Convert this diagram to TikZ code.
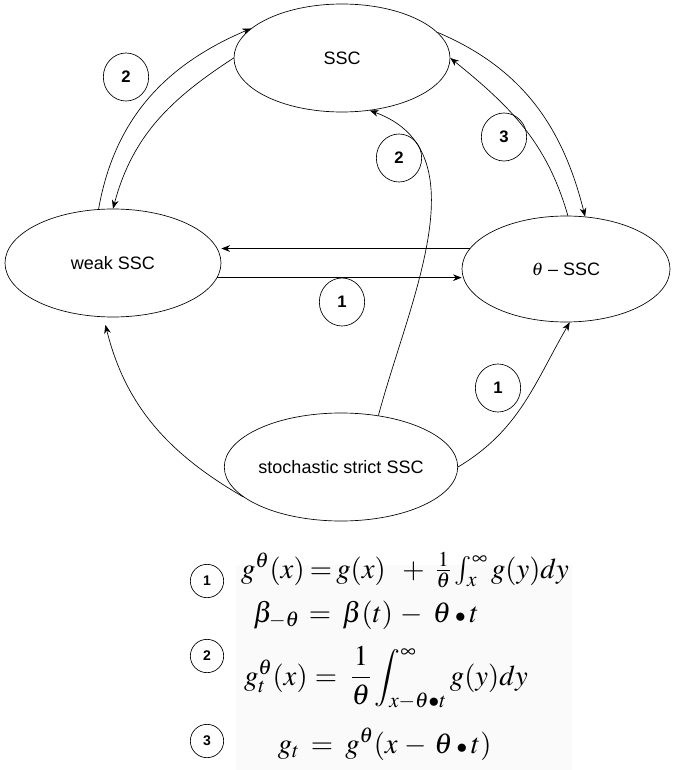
\documentclass[tikz,border=0pt]{standalone}
\usepackage{mathptmx}
\usepackage{fontspec}
\setmainfont{Liberation Sans}
\usetikzlibrary{arrows.meta,shapes.geometric}

\begin{document}
\begin{tikzpicture}[x=0.75pt,y=-0.75pt,>={Stealth[length=6.5pt,width=5pt]},line width=0.5pt,
	state/.style={ellipse,draw,minimum width=162pt,minimum height=81pt,inner sep=0pt,font=\fontsize{13.5}{16}\selectfont},
	tag/.style={ellipse,draw,minimum width=34pt,minimum height=36pt,inner sep=0pt,font=\fontsize{12.5}{14}\selectfont\bfseries},
	eqtag/.style={circle,draw,minimum size=25pt,inner sep=0pt,font=\fontsize{10.5}{12}\selectfont\bfseries},
	eq/.style={inner sep=0pt,font=\fontsize{21.5}{26}\selectfont},
	eql/.style={eq,anchor=base east},
	eqr/.style={eq,anchor=base west},
	eqs/.style={eq,anchor=base}]
	  \useasboundingbox (0,0) rectangle (672,770);
	  \fill[black!2] (236,565) rectangle (572,770);
	  % classes
	  \node[state] (ssc) at (342,58) {SSC};
	  \node[state] (weak) at (113,263) {weak SSC};
	  \node[state,minimum width=156pt,minimum height=79.5pt] (theta) at (566,269) {$\theta$\ – SSC};
	  \node[state] (stoch) at (341,467) {stochastic strict SSC};
	  % implications
	  \draw[->] (ssc.west) to[out=213,in=75] (weak.north);
	  \draw[->] (weak.105) to[out=80,in=203] (ssc.162);
	  \draw[->] (theta.88) to[out=106,in=-39] (ssc.east);
	  \draw[->] (ssc.15) to[out=-23,in=104] (theta.70);
	  \draw[->] (theta.168) -- (theta.168 -| weak.east);
	  \draw[->] (weak.-8) -- (weak.-8 -| theta.west);
	  \draw[->] (stoch.54) to[out=75,in=-20] (ssc.-62);
	  \draw[->,shorten >=6pt] (stoch.197) to[out=150,in=-76] (weak.-100);
	  \draw[->] (stoch.east) to[out=31,in=240] (theta.-86);
	  \node[tag] (t2a) at (126,77) {2};
	  \node[tag] (t2b) at (399,158) {2};
	  \node[tag] (t3) at (504,137) {3};
	  \node[tag] (t1a) at (342,302) {1};
	  \node[tag] (t1b) at (498,388) {1};
	  % conditions
	  \node[eqtag] (c1) at (207,581) {1};
	  \node[eqtag] (c2) at (207,656) {2};
	  \node[eqtag] (c3) at (207,741) {3};
	  \node[eql] (eq1l) at (305,578) {$g^{\theta}(x)$};
	  \node[eqs] (eq1s) at (321,578) {$=$};
	  \node[eqr] (eq1r) at (336,578) {$g(x)\;\;+\;\frac{1}{\theta}\int_x^{\infty} g(y)dy$};
	  \node[eql] (eq2l) at (300,622) {$\beta_{-\theta}$};
	  \node[eqs] (eq2s) at (320,622) {$=$};
	  \node[eqr] (eq2r) at (342,622) {$\beta(t)\,-\;\theta\mathbin{\scriptstyle\bullet}t$};
	  \node[eql] (eq3l) at (308,685) {$g_t^{\theta}(x)$};
	  \node[eqs] (eq3s) at (326,685) {$=$};
	  \node[eqr] (eq3r) at (350,685) {$\displaystyle\frac{1}{\theta}\int_{x-\theta\bullet t}^{\infty} g(y)dy$};
	  \node[eql] (eq4l) at (300,753) {$g_t$};
	  \node[eqs] (eq4s) at (322,753) {$=$};
	  \node[eqr] (eq4r) at (345,753) {$g^{\theta}(x\,-\,\theta\mathbin{\scriptstyle\bullet}t)$};
	\end{tikzpicture}
\end{document}
